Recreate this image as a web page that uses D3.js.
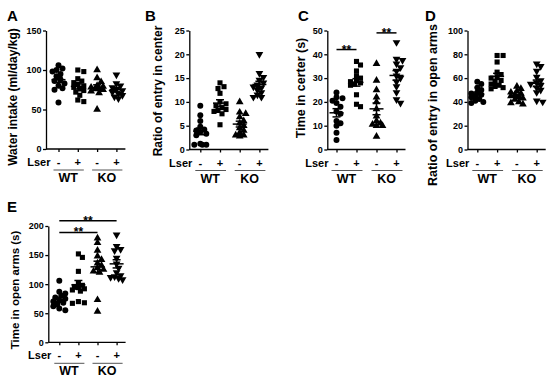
<!DOCTYPE html>
<html>
<head>
<meta charset="utf-8">
<script src="https://cdn.jsdelivr.net/npm/d3@7"></script>
<style>
  body { margin: 0; background: #fff; }
  svg { font-family: "Liberation Sans", Arial, sans-serif; font-weight: bold; }
</style>
</head>
<body>
<svg id="fig" width="550" height="380"></svg>
<script>
// groups: WT vehicle, WT + L-serine, KO vehicle, KO + L-serine
const groups = ["WT-", "WT+", "KO-", "KO+"];
const lserSigns = ["-", "+", "-", "+"];
const genotypes = ["WT", "KO"];

const waterIntake = [
  [106, 102, 100, 98, 95, 92, 88, 86, 83, 80, 77, 75, 59],
  [100, 98, 89, 86, 84, 82, 80, 78, 76, 74, 72, 68, 62, 60],
  [100, 90, 85, 80, 79, 78, 77, 76, 75, 73, 71, 50],
  [94, 83, 80, 78, 76, 74, 72, 70, 68, 66, 64]
];
const entryCenter = [
  [9.2, 7.2, 6, 4.8, 4.2, 4, 3.7, 3.3, 3, 1.2, 1, 1, 1],
  [14, 13.2, 12.8, 11.8, 10, 9.6, 9.2, 8.8, 8.4, 8.2, 8, 7.5, 5.2],
  [10, 7.8, 7.5, 6.8, 6, 5.5, 5, 4.5, 4, 3.5, 3, 3, 2.8],
  [20, 16, 15.2, 14.6, 14, 13.6, 13.2, 13, 12.5, 12, 11.5, 11, 11]
];
const timeCenter = [
  [24, 22, 21.5, 20.5, 19.5, 18, 16, 15, 12, 11, 10, 7, 4],
  [37, 35.5, 33, 31, 30, 29, 28.5, 28, 27.5, 27, 23, 19, 18],
  [36, 29, 25, 22, 20, 17, 14, 12, 11, 10.5, 10, 10, 5.5],
  [45, 38, 37.5, 36, 34.5, 33, 31, 30, 28.5, 26.5, 24, 21, 19.5]
];
const entryOpenArms = [
  [57, 55, 52, 50, 48, 47, 46, 45, 44, 42.5, 41, 40, 39],
  [79, 79, 73.5, 65, 63, 61, 60, 58, 57, 55, 54, 53, 52, 51],
  [53, 51, 49, 48, 47, 46, 45, 44, 43, 42, 40, 39, 38],
  [72, 70, 66, 61, 58, 56, 55, 54, 52, 50, 48, 41, 40]
];
const timeOpenArms = [
  [106, 87, 84, 80, 77, 75, 72, 70, 68, 65, 62, 58, 55],
  [152, 146, 122, 102, 98, 96, 94, 92, 90, 88, 70, 68, 67],
  [179, 171, 158, 148, 142, 136, 132, 128, 125, 122, 120, 73, 53],
  [185, 165, 160, 158, 145, 135, 128, 120, 115, 113, 112, 110, 108]
];

// significance brackets: [from group, to group, level]
const timeCenterSig = [[0, 1, 42], [2, 3, 49]];
const timeOpenArmsSig = [[0, 3, 209], [0, 2, 189]];

const svg = d3.select("#fig");

const panels = [
  { letter: "A", title: "Water intake (ml/day/kg)", data: waterIntake, ticks: [0, 50, 100, 150],
    left: 46, top: 30.5, bottom: 149, first: 58.5, step: 19.3,
    titleX: 17, titleY: 97, titleSize: 12, letterX: 7, letterY: 21 },
  { letter: "B", title: "Ratio of entry in center", data: entryCenter, ticks: [0, 5, 10, 15, 20, 25],
    left: 189.3, top: 30.5, bottom: 149.5, first: 200.3, step: 19.7,
    titleX: 162, titleY: 91, titleSize: 12, letterX: 145, letterY: 21 },
  { letter: "C", title: "Time in certer (s)", data: timeCenter, ticks: [0, 10, 20, 30, 40, 50], sig: timeCenterSig,
    left: 327.3, top: 30.5, bottom: 149.5, first: 336.5, step: 20,
    titleX: 305, titleY: 88, titleSize: 12.5, letterX: 298, letterY: 21 },
  { letter: "D", title: "Ratio of entry in open arms", data: entryOpenArms, ticks: [0, 20, 40, 60, 80, 100],
    left: 467.5, top: 30.5, bottom: 149.5, first: 477.3, step: 19.8,
    titleX: 437, titleY: 105, titleSize: 12.5, letterX: 425, letterY: 21 },
  { letter: "E", title: "Time in open arms (s)", data: timeOpenArms, ticks: [0, 50, 100, 150, 200], sig: timeOpenArmsSig,
    left: 48.3, top: 226, bottom: 342.3, first: 59.3, step: 19.1,
    titleX: 19, titleY: 290, titleSize: 11.5, letterX: 7, letterY: 212 }
];

const symbols = [
  d3.symbol().type(d3.symbolCircle).size(28),
  d3.symbol().type(d3.symbolSquare).size(26),
  d3.symbol().type(d3.symbolTriangle).size(26),
  d3.symbol().type(d3.symbolTriangle).size(26)
];

// simple beeswarm: place each point at the nearest free slot
function swarm(vals, y, cx) {
  const placed = [];
  const pts = vals.map(v => ({ v: v, y: y(v) })).sort((a, b) => a.y - b.y);
  const slots = [0, 2, -2, 4, -4, 6, -6];
  pts.forEach(p => {
    let best = 0, bestD = -1;
    for (const s of slots) {
      const d = d3.min(placed, q => Math.hypot(q.x - (cx + s), q.y - p.y));
      const dd = d === undefined ? 99 : d;
      if (dd >= 4.5) { best = s; bestD = dd; break; }
      if (dd > bestD) { bestD = dd; best = s; }
    }
    p.x = cx + best;
    placed.push(p);
  });
  return placed;
}

panels.forEach(p => {
  const ymax = p.ticks[p.ticks.length - 1];
  const y = d3.scaleLinear().domain([0, ymax]).range([p.bottom, p.top]);
  const x = d3.scalePoint().domain(groups)
    .range([p.first, p.first + p.step * (groups.length - 1)]);
  const g = svg.append("g");

  // y axis
  const ya = g.append("g").attr("transform", `translate(${p.left},0)`)
    .call(d3.axisLeft(y).tickValues(p.ticks).tickSize(3).tickSizeOuter(0).tickPadding(1.5));
  ya.selectAll("text").attr("font-size", 9).attr("font-weight", "bold").attr("fill", "#000")
    .attr("font-family", "Liberation Sans, Arial, sans-serif");
  ya.selectAll("line,path").attr("stroke", "#000").attr("stroke-width", 1.3);

  // x axis
  const xa = g.append("g").attr("transform", `translate(0,${p.bottom})`)
    .call(d3.axisBottom(x).tickSize(3).tickSizeOuter(0).tickFormat(""));
  xa.select(".domain").remove();
  xa.selectAll("line").attr("stroke", "#000").attr("stroke-width", 1.3);
  g.append("line")
    .attr("x1", p.left).attr("x2", x(groups[3]) + 9)
    .attr("y1", p.bottom).attr("y2", p.bottom)
    .attr("stroke", "#000").attr("stroke-width", 1.3);

  // Lser row
  g.selectAll(".sign").data(groups).enter().append("text")
    .attr("x", d => x(d)).attr("y", p.bottom + 17)
    .attr("text-anchor", "middle").attr("font-size", 11)
    .text((d, i) => lserSigns[i]);
  g.append("text").attr("x", x(groups[0]) - 8).attr("y", p.bottom + 17)
    .attr("text-anchor", "end").attr("font-size", 11).text("Lser");

  // genotype labels with underlines
  genotypes.forEach((gt, k) => {
    const a = x(groups[2 * k]), b = x(groups[2 * k + 1]);
    g.append("line").attr("x1", a - 5).attr("x2", b + 6)
      .attr("y1", p.bottom + 21).attr("y2", p.bottom + 21)
      .attr("stroke", "#555").attr("stroke-width", 1);
    g.append("text").attr("x", (a + b) / 2).attr("y", p.bottom + 33)
      .attr("text-anchor", "middle").attr("font-size", 12.5).text(gt);
  });

  // titles
  g.append("text")
    .attr("transform", `translate(${p.titleX},${p.titleY}) rotate(-90)`)
    .attr("text-anchor", "middle").attr("font-size", p.titleSize).text(p.title);
  g.append("text").attr("x", p.letterX).attr("y", p.letterY)
    .attr("font-size", 15).text(p.letter);

  // points
  p.data.forEach((vals, i) => {
    const pts = swarm(vals, y, x(groups[i]));
    g.selectAll(null).data(pts).enter().append("path")
      .attr("d", symbols[i])
      .attr("transform", d => `translate(${d.x},${d.y})` + (i === 3 ? " rotate(180)" : ""))
      .attr("fill", "#000");

    const m = d3.mean(vals);
    const sem = d3.deviation(vals) / Math.sqrt(vals.length);
    const cx = x(groups[i]);
    const lines = [
      [cx - 7, y(m), cx + 7, y(m)],
      [cx, y(m - sem), cx, y(m + sem)],
      [cx - 4, y(m - sem), cx + 4, y(m - sem)],
      [cx - 4, y(m + sem), cx + 4, y(m + sem)]
    ];
    g.selectAll(null).data(lines).enter().append("line")
      .attr("x1", d => d[0]).attr("y1", d => d[1])
      .attr("x2", d => d[2]).attr("y2", d => d[3])
      .attr("stroke", "#000").attr("stroke-width", 1.5);
  });

  // significance
  (p.sig || []).forEach(s => {
    const a = x(groups[s[0]]), b = x(groups[s[1]]);
    g.append("line").attr("x1", a).attr("x2", b)
      .attr("y1", y(s[2])).attr("y2", y(s[2]))
      .attr("stroke", "#000").attr("stroke-width", 1.5);
    g.append("text").attr("x", (a + b) / 2).attr("y", y(s[2]) + 4)
      .attr("text-anchor", "middle").attr("font-size", 12).text("**");
  });
});
</script>
</body>
</html>
